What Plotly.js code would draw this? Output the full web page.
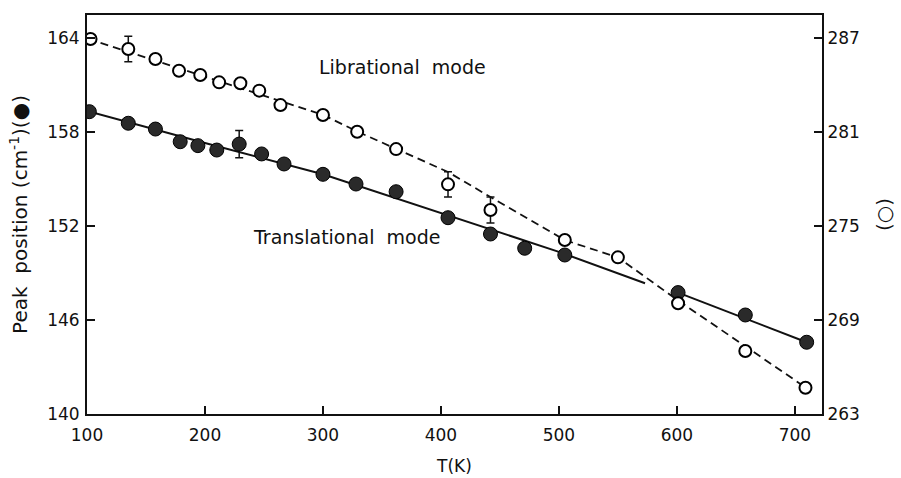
<!DOCTYPE html>
<html>
<head>
<meta charset="utf-8">
<script src="https://cdn.plot.ly/plotly-3.0.1.min.js"></script>
<style>html,body{margin:0;padding:0;background:#fff;}#chart{width:901px;height:478px;}</style>
</head>
<body>
<div id="chart"></div>
<script>
// Translational mode (filled circles, left axis, cm^-1)
var transT   = [102, 135, 158, 179, 194, 210, 229, 248, 267, 300, 328, 362, 406, 442, 471, 505, 601, 658, 710];
var transVal = [159.3, 158.56, 158.19, 157.38, 157.13, 156.85, 157.23, 156.6, 155.96, 155.3, 154.68, 154.19, 152.53, 151.49, 150.58, 150.15, 147.75, 146.32, 144.58];
var transErr = [null, null, null, null, null, null, 0.87, null, null, null, null, null, null, null, null, null, null, null, null];

// Librational mode (open circles, right axis)
var libT   = [103, 135, 158, 178, 196, 212, 230, 246, 264, 300, 329, 362, 406, 442, 505, 550, 601, 658, 709];
var libVal = [286.94, 286.3, 285.66, 284.91, 284.64, 284.17, 284.11, 283.64, 282.72, 282.09, 281.02, 279.91, 277.66, 276.02, 274.11, 273.0, 270.07, 267.02, 264.68];
var libErr = [null, 0.82, null, null, null, null, null, null, null, null, null, null, 0.8, 0.83, null, null, null, null, null];

// Drawn curves
var transFitT1 = [100, 200, 300, 400, 500, 573];
var transFit1  = [159.35, 157.3, 155.3, 152.8, 150.35, 148.35];
var transFitT2 = [601, 710];
var transFit2  = [147.75, 144.58];
var libFitT = [101, 300, 330, 363, 406, 442, 505, 550, 600, 709];
var libFit  = [286.95, 282.1, 281.0, 279.9, 278.45, 276.85, 274.1, 273.0, 270.3, 264.7];

var xTicks = [100, 200, 300, 400, 500, 600, 700];
var yTicks = [140, 146, 152, 158, 164];
var y2Ticks = [263, 269, 275, 281, 287];

function subset(xs, ys, es) {
  var o = {x: [], y: [], e: []};
  for (var i = 0; i < xs.length; i++) {
    if (es[i] !== null) { o.x.push(xs[i]); o.y.push(ys[i]); o.e.push(es[i]); }
  }
  return o;
}
var tE = subset(transT, transVal, transErr);
var lE = subset(libT, libVal, libErr);

var FONT = 'DejaVu Sans, sans-serif';
var traces = [
  {x: transFitT1, y: transFit1, mode: 'lines', line: {color: '#111', width: 2}, yaxis: 'y', hoverinfo: 'skip'},
  {x: transFitT2, y: transFit2, mode: 'lines', line: {color: '#111', width: 2}, yaxis: 'y', hoverinfo: 'skip'},
  {x: libFitT, y: libFit, mode: 'lines', line: {color: '#111', width: 1.8, dash: '8px,5px'}, yaxis: 'y2', hoverinfo: 'skip'},
  {x: tE.x, y: tE.y, mode: 'markers', marker: {size: 1, opacity: 0}, yaxis: 'y',
   error_y: {type: 'data', array: tE.e, visible: true, color: '#111', thickness: 1.5, width: 4}},
  {x: lE.x, y: lE.y, mode: 'markers', marker: {size: 1, opacity: 0}, yaxis: 'y2',
   error_y: {type: 'data', array: lE.e, visible: true, color: '#111', thickness: 1.5, width: 4}},
  {x: transT, y: transVal, mode: 'markers', yaxis: 'y',
   marker: {symbol: 'circle', size: 14, color: '#2a2a2a', line: {color: '#000', width: 1}}},
  {x: libT, y: libVal, mode: 'markers', yaxis: 'y2',
   marker: {symbol: 'circle', size: 12, color: '#fff', line: {color: '#000', width: 2}}}
];

var layout = {
  width: 901, height: 478,
  margin: {l: 87, r: 79, t: 15, b: 64},
  paper_bgcolor: '#fff', plot_bgcolor: '#fff',
  showlegend: false,
  font: {family: FONT, size: 17, color: '#111'},
  xaxis: {
    range: [100, 723], tickvals: xTicks, ticktext: xTicks.map(String),
    ticks: 'inside', ticklen: 8, tickwidth: 1.5, tickcolor: '#111',
    showline: true, linewidth: 2, linecolor: '#111', mirror: true,
    showgrid: false, zeroline: false, ticklabelstandoff: 5,
    tickfont: {family: FONT, size: 17},
    title: {text: 'T(K)', font: {family: FONT, size: 17}, standoff: 16}
  },
  yaxis: {
    range: [140, 165.47], tickvals: yTicks, ticktext: yTicks.map(String),
    ticks: 'inside', ticklen: 8, tickwidth: 1.5, tickcolor: '#111',
    showline: true, linewidth: 2, linecolor: '#111',
    showgrid: false, zeroline: false, ticklabelstandoff: 2,
    tickfont: {family: FONT, size: 17},
    title: {text: 'Peak  position (cm<sup>-1</sup>)(●)', font: {family: FONT, size: 20}, standoff: 14}
  },
  yaxis2: {
    overlaying: 'y', side: 'right', anchor: 'x',
    range: [263, 288.47], tickvals: y2Ticks, ticktext: y2Ticks.map(String),
    ticks: 'inside', ticklen: 8, tickwidth: 1.5, tickcolor: '#111',
    showline: true, linewidth: 2, linecolor: '#111',
    showgrid: false, zeroline: false,
    tickfont: {family: FONT, size: 17},
    title: {text: '(○)', font: {family: FONT, size: 20}, standoff: 18}
  },
  annotations: [
    {x: 367, y: 162.15, xref: 'x', yref: 'y', text: 'Librational  mode', showarrow: false,
     font: {family: FONT, size: 19, color: '#111'}},
    {x: 320, y: 151.3, xref: 'x', yref: 'y', text: 'Translational  mode', showarrow: false,
     font: {family: FONT, size: 19, color: '#111'}}
  ]
};

Plotly.newPlot('chart', traces, layout, {staticPlot: true, displayModeBar: false});
</script>
</body>
</html>
